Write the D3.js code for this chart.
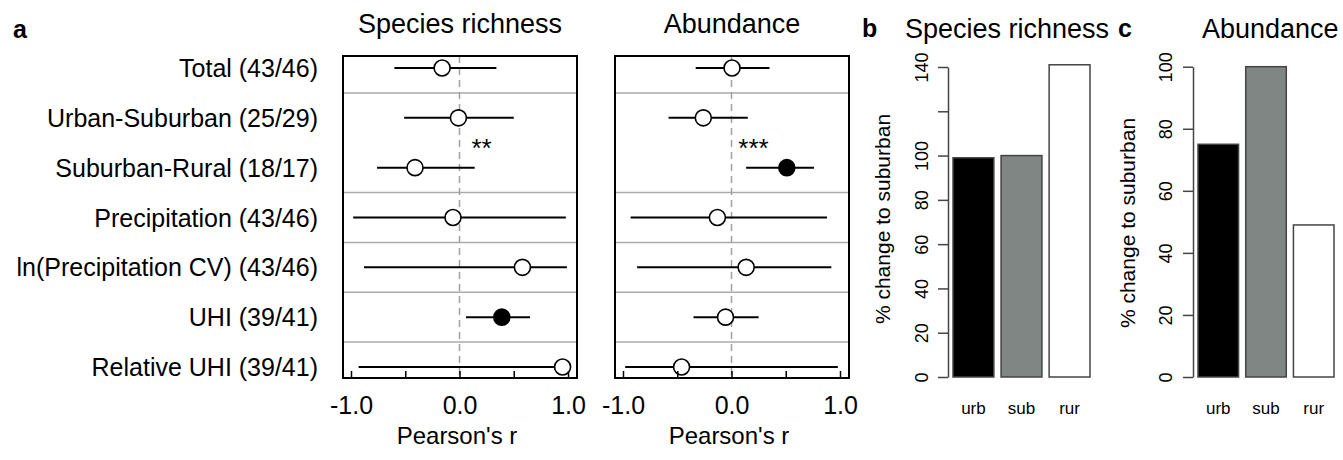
<!DOCTYPE html>
<html>
<head>
<meta charset="utf-8">
<script src="https://cdn.jsdelivr.net/npm/d3@7"></script>
<style>
  body { margin: 0; background: #fff; }
  svg text { font-family: "Liberation Sans", Arial, sans-serif; fill: #000; }
</style>
</head>
<body>
<svg id="chart" width="1343" height="460"></svg>
<script>
// ---- data ----
const rowLabels = ["Total (43/46)", "Urban-Suburban (25/29)", "Suburban-Rural (18/17)",
  "Precipitation (43/46)", "ln(Precipitation CV) (43/46)", "UHI (39/41)", "Relative UHI (39/41)"];
// group id per row: separators drawn where the group changes
const rowGroup = [0, 1, 1, 2, 3, 4, 5];

const richR  = [-0.16, -0.01, -0.41, -0.06, 0.58, 0.39, 0.95];
const richLo = [-0.60, -0.51, -0.76, -0.98, -0.88, 0.06, -0.93];
const richHi = [0.34, 0.50, 0.14, 0.98, 0.99, 0.65, 0.99];
const richSig = [false, false, false, false, false, true, false];

const abunR  = [0.005, -0.26, 0.51, -0.13, 0.135, -0.055, -0.46];
const abunLo = [-0.33, -0.58, 0.135, -0.93, -0.87, -0.35, -0.98];
const abunHi = [0.35, 0.15, 0.76, 0.88, 0.92, 0.25, 0.98];
const abunSig = [false, false, true, false, false, false, false];

const xTicks = [-1, -0.5, 0, 0.5, 1];
const xTickLabels = [-1, 0, 1];

const cats = ["urb", "sub", "rur"];
const catFill = ["#000000", "#7f8683", "#ffffff"];
const richPct = [99, 100, 141];
const abunPct = [75, 100, 49];
const richTicks = [0, 20, 40, 60, 80, 100, 120, 140];
const richTickLabels = [0, 20, 40, 60, 80, 100, 140];
const abunTicks = [0, 20, 40, 60, 80, 100];

const svg = d3.select('#chart');
const font = '"Liberation Sans", Arial, sans-serif';

// panel letters
svg.append('text').attr('x', 13).attr('y', 38).attr('font-size', 25).attr('font-weight', 'bold').text('a');
svg.append('text').attr('x', 862).attr('y', 37).attr('font-size', 25).attr('font-weight', 'bold').text('b');
svg.append('text').attr('x', 1118).attr('y', 37).attr('font-size', 25).attr('font-weight', 'bold').text('c');

// shared row scale
const yRow = d3.scalePoint().domain(rowLabels).range([68, 367]);
const boxTop = 56, boxBottom = 378;

svg.selectAll('.rowlab')
  .data(rowLabels)
  .enter()
  .append('text')
  .attr('class', 'rowlab')
  .attr('x', 318)
  .attr('y', d => yRow(d))
  .attr('dy', '0.36em')
  .attr('text-anchor', 'end')
  .attr('font-size', 25)
  .text(d => d);

function forest(x0, title, r, lo, hi, sig, stars) {
  const g = svg.append('g');
  const x = d3.scaleLinear().domain([-1, 1]).range([x0 + 8, x0 + 225]);
  const w = 234;

  g.append('text')
    .attr('x', x0 + w / 2).attr('y', 33)
    .attr('text-anchor', 'middle').attr('font-size', 27)
    .text(title);

  // gray separators between groups
  const seps = [];
  for (let i = 1; i < rowLabels.length; i++) {
    if (rowGroup[i] !== rowGroup[i - 1]) seps.push((yRow(rowLabels[i]) + yRow(rowLabels[i - 1])) / 2);
  }
  g.selectAll('.sep')
    .data(seps)
    .enter()
    .append('line')
    .attr('x1', x0).attr('x2', x0 + w)
    .attr('y1', d => d).attr('y2', d => d)
    .attr('stroke', '#aaaaaa').attr('stroke-width', 1.5);

  // zero line
  g.append('line')
    .attr('x1', x(0)).attr('x2', x(0))
    .attr('y1', boxTop).attr('y2', boxBottom)
    .attr('stroke', '#a0a0a0').attr('stroke-width', 1.5)
    .attr('stroke-dasharray', '7,5');

  const rows = rowLabels.map((lab, i) => ({ lab, r: r[i], lo: lo[i], hi: hi[i], sig: sig[i] }));

  g.selectAll('.ci')
    .data(rows)
    .enter()
    .append('line')
    .attr('x1', d => x(d.lo)).attr('x2', d => x(d.hi))
    .attr('y1', d => yRow(d.lab)).attr('y2', d => yRow(d.lab))
    .attr('stroke', '#000').attr('stroke-width', 2);

  g.selectAll('.pt')
    .data(rows)
    .enter()
    .append('circle')
    .attr('cx', d => x(d.r))
    .attr('cy', d => yRow(d.lab))
    .attr('r', 8)
    .attr('fill', d => d.sig ? '#000' : '#fff')
    .attr('stroke', '#000').attr('stroke-width', 1.6);

  // significance stars between Urban-Suburban and Suburban-Rural
  g.append('text')
    .attr('x', x(0) + 22)
    .attr('y', (yRow(rowLabels[1]) + yRow(rowLabels[2])) / 2 + 14)
    .attr('text-anchor', 'middle').attr('font-size', 26)
    .text(stars);

  // box
  g.append('rect')
    .attr('x', x0).attr('y', boxTop)
    .attr('width', w).attr('height', boxBottom - boxTop)
    .attr('fill', 'none').attr('stroke', '#000').attr('stroke-width', 2);

  const ax = g.append('g')
    .attr('transform', `translate(0,${boxBottom})`)
    .call(d3.axisBottom(x)
      .tickValues(xTicks)
      .tickSizeInner(-7)
      .tickSizeOuter(0)
      .tickFormat(d => xTickLabels.includes(d) ? d.toFixed(1) : ''));
  ax.select('.domain').remove();
  ax.selectAll('line').attr('stroke', '#000').attr('stroke-width', 1.5);
  ax.selectAll('text')
    .attr('y', 36).attr('dy', 0)
    .attr('font-size', 25).attr('font-family', font).attr('fill', '#000');

  g.append('text')
    .attr('x', x0 + w / 2 - 3).attr('y', 444)
    .attr('text-anchor', 'middle').attr('font-size', 24)
    .text("Pearson's r");
}

forest(343, 'Species richness', richR, richLo, richHi, richSig, '**');
forest(615, 'Abundance', abunR, abunLo, abunHi, abunSig, '***');

function bars(axisX, barL, barR, yTop, max, vals, ticks, tickLabels, title, titleX, titleCY, tickLabX, titleLabX) {
  const g = svg.append('g');
  const y = d3.scaleLinear().domain([0, max]).range([377, yTop]);
  const step = (barR - barL) / (3 - 0.15);
  const xb = d3.scaleBand().domain(cats)
    .range([barL - step * 0.075, barR + step * 0.075])
    .paddingInner(0.15).paddingOuter(0.075);

  g.append('text')
    .attr('x', titleX).attr('y', 38)
    .attr('font-size', 27)
    .text(title);

  g.selectAll('rect')
    .data(cats)
    .enter()
    .append('rect')
    .attr('x', d => xb(d))
    .attr('y', (d, i) => y(vals[i]))
    .attr('width', xb.bandwidth())
    .attr('height', (d, i) => y(0) - y(vals[i]))
    .attr('fill', (d, i) => catFill[i])
    .attr('stroke', '#444').attr('stroke-width', 1.5);

  g.selectAll('.cat')
    .data(cats)
    .enter()
    .append('text')
    .attr('x', d => xb(d) + xb.bandwidth() / 2)
    .attr('y', 414)
    .attr('text-anchor', 'middle').attr('font-size', 17)
    .text(d => d);

  const ax = g.append('g')
    .attr('transform', `translate(${axisX},0)`)
    .call(d3.axisLeft(y)
      .tickValues(ticks)
      .tickSizeInner(10)
      .tickSizeOuter(0)
      .tickFormat(d => tickLabels.includes(d) ? d : ''));
  ax.select('.domain').attr('stroke', '#444').attr('stroke-width', 1.5);
  ax.selectAll('line').attr('stroke', '#444').attr('stroke-width', 1.5);
  ax.selectAll('text')
    .attr('transform', 'rotate(-90)')
    .attr('x', 0).attr('dy', 0)
    .attr('y', -(axisX - tickLabX))
    .attr('text-anchor', 'middle')
    .attr('font-size', 18).attr('font-family', font).attr('fill', '#000');

  g.append('text')
    .attr('transform', `translate(${titleLabX},${titleCY}) rotate(-90)`)
    .attr('text-anchor', 'middle').attr('font-size', 21)
    .text('% change to suburban');
}

bars(948, 953, 1090, 67, 140, richPct, richTicks, richTickLabels, 'Species richness', 905, 219, 928, 890);
bars(1193, 1198, 1334, 66.7, 100, abunPct, abunTicks, abunTicks, 'Abundance', 1202, 223, 1172, 1135);
</script>
</body>
</html>
